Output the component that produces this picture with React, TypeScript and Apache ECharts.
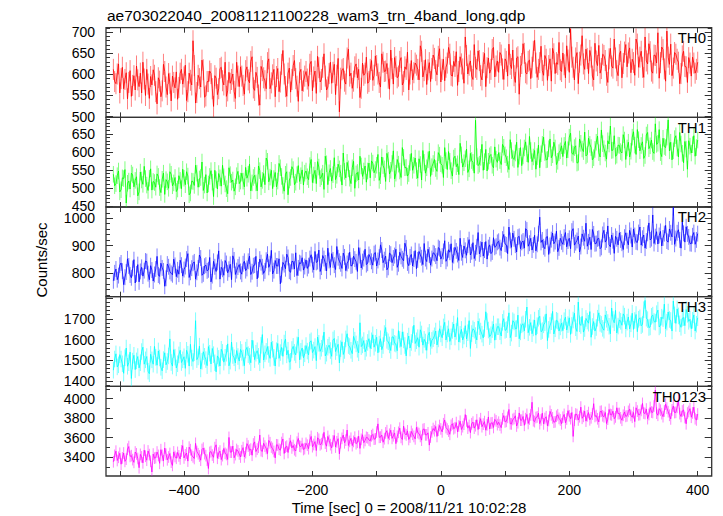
import React, { useEffect, useRef } from "react";
import * as echarts from "echarts";

// ---- data: 2-second bins; "A" = bins at -510, -506, ...; "B" = bins at -508, -504, ... ----
const tStart = -510;
const tStep = 4;

const th0A = [
  612, 578, 625, 590, 566, 604, 581, 548, 597, 620, 571, 556, 589, 612, 543, 575, 598, 530, 584, 561, 607, 552, 579, 596, 568,
  541, 603, 577, 622, 559, 586, 680, 532, 598, 570, 611, 549, 583, 602, 524, 591, 566, 617, 575, 548, 605, 588, 560, 629, 571,
  596, 553, 618, 580, 642, 562, 593, 527, 609, 585, 628, 566, 599, 547, 614, 582, 657, 571, 603, 558, 621, 590, 536, 612, 584,
  607, 572, 631, 594, 555, 616, 588, 649, 563, 602, 579, 624, 598, 511, 611, 584, 639, 596, 567, 618, 592, 545, 627, 603, 579,
  612, 586, 644, 601, 570, 629, 608, 591, 658, 577, 619, 596, 640, 583, 612, 563, 633, 604, 622, 587, 655, 609, 576, 628, 614,
  638, 599, 661, 612, 585, 627, 648, 596, 619, 574, 642, 613, 689, 601, 632, 588, 617, 656, 597, 628, 571, 639, 612, 664, 620,
  605, 646, 588, 631, 672, 614, 597, 639, 553, 626, 650, 601, 634, 617, 681, 593, 628, 609, 645, 586, 637, 662, 602, 624, 611,
  651, 592, 634, 708, 617, 639, 578, 646, 625, 660, 602, 641, 587, 632, 669, 614, 645, 598, 637, 620, 684, 609, 647, 592, 653,
  618, 663, 636, 598, 672, 641, 617, 689, 625, 654, 603, 645, 699, 628, 659, 584, 641, 672, 615, 648, 629, 602, 655, 618, 640,
  596, 627, 612,
];
const th0B = [
  583, 601, 556, 617, 588, 542, 609, 574, 563, 587, 603, 629, 550, 577, 595, 611, 559, 592, 547, 624, 570, 602, 537, 581, 606,
  569, 612, 594, 538, 603, 575, 621, 557, 590, 634, 546, 583, 608, 566, 597, 552, 614, 585, 629, 561, 579, 601, 543, 596, 618,
  574, 609, 587, 631, 568, 605, 551, 619, 592, 566, 637, 580, 612, 595, 559, 624, 601, 548, 615, 588, 633, 572, 604, 561, 596,
  589, 624, 561, 608, 643, 582, 617, 596, 570, 629, 605, 552, 638, 591, 614, 577, 660, 603, 584, 625, 612, 567, 598, 641, 583,
  633, 598, 621, 581, 649, 607, 626, 565, 614, 640, 592, 631, 575, 618, 653, 601, 587, 627, 612, 668, 594, 635, 611, 583, 646,
  609, 643, 582, 636, 617, 664, 598, 631, 654, 607, 625, 579, 645, 622, 596, 671, 612, 633, 587, 650, 616, 603, 659, 594, 632,
  652, 613, 637, 596, 624, 658, 581, 642, 619, 673, 604, 631, 590, 655, 627, 612, 667, 598, 636, 621, 584, 649, 628, 676, 607,
  623, 668, 605, 641, 587, 652, 629, 692, 612, 638, 657, 596, 674, 621, 603, 648, 633, 581, 662, 615, 639, 597, 655, 626, 671,
  651, 604, 628, 684, 617, 655, 593, 632, 673, 608, 646, 627, 591, 665, 613, 703, 624, 597, 652, 636, 578, 644, 619, 581, 627,
  641, 603, 629,
];

const th1A = [
  538, 512, 547, 495, 526, 458, 519, 541, 503, 531, 489, 522, 560, 508, 527, 494, 515, 539, 501, 524, 482, 517, 545, 506, 529,
  497, 521, 552, 509, 533, 486, 518, 563, 502, 529, 493, 537, 511, 548, 476, 523, 540, 505, 531, 498, 556, 516, 491, 534, 512,
  541, 503, 527, 566, 514, 535, 492, 548, 521, 509, 574, 530, 498, 543, 519, 556, 507, 538, 481, 529, 551, 516, 562, 534, 508,
  547, 523, 579, 536, 512, 558, 531, 496, 567, 542, 519, 584, 535, 553, 508, 546, 571, 527, 556, 499, 543, 588, 532, 561, 547,
  528, 569, 551, 593, 534, 562, 518, 577, 549, 603, 541, 566, 529, 585, 557, 540, 596, 563, 548, 581, 522, 571, 556, 602, 559,
  579, 546, 591, 563, 612, 551, 574, 533, 588, 567, 624, 558, 581, 543, 596, 571, 688, 562, 585, 549, 607, 574, 593, 556, 580,
  598, 565, 613, 584, 551, 604, 579, 627, 588, 562, 611, 595, 643, 573, 604, 587, 556, 621, 598, 579, 636, 592, 611, 574, 603,
  587, 629, 606, 652, 593, 617, 571, 624, 601, 589, 638, 612, 584, 627, 598, 661, 609, 580, 622, 604, 645, 591, 618, 597, 633,
  611, 586, 641, 619, 662, 603, 628, 590, 654, 617, 601, 678, 624, 598, 638, 612, 689, 627, 603, 645, 586, 622, 570, 608, 631,
  597, 645, 612,
];
const th1B = [
  506, 534, 489, 528, 551, 513, 497, 536, 521, 478, 544, 510, 526, 493, 553, 518, 502, 532, 487, 541, 523, 499, 538, 514, 490,
  534, 498, 527, 545, 481, 519, 507, 541, 525, 572, 508, 486, 532, 516, 549, 497, 528, 563, 511, 484, 537, 522, 503, 546, 519,
  519, 557, 538, 492, 529, 514, 561, 503, 540, 583, 517, 549, 526, 503, 568, 532, 491, 545, 522, 559, 509, 537, 518, 550, 541,
  531, 562, 515, 549, 573, 526, 541, 588, 509, 554, 537, 523, 566, 541, 597, 528, 553, 512, 574, 539, 522, 561, 547, 516, 569,
  575, 542, 563, 521, 586, 553, 596, 539, 568, 525, 579, 547, 612, 556, 533, 571, 549, 583, 527, 565, 604, 541, 578, 532, 568,
  554, 598, 567, 529, 576, 601, 548, 583, 559, 537, 592, 570, 608, 553, 576, 541, 587, 566, 621, 573, 547, 589, 563, 614, 571,
  576, 621, 592, 566, 634, 583, 597, 557, 612, 589, 628, 571, 604, 586, 552, 619, 595, 641, 578, 609, 584, 627, 565, 598, 617,
  618, 583, 641, 597, 612, 569, 636, 608, 655, 593, 621, 578, 607, 644, 586, 623, 597, 631, 672, 605, 588, 619, 601, 648, 579,
  627, 602, 656, 593, 634, 618, 582, 647, 609, 633, 596, 621, 662, 587, 615, 641, 603, 578, 637, 611, 654, 596, 629, 552, 616,
  620, 588, 633,
];

const th2A = [
  772, 815, 791, 837, 758, 804, 826, 783, 849, 797, 768, 821, 809, 842, 776, 811, 795, 861, 788, 819, 752, 833, 806, 794, 828,
  812, 847, 789, 824, 871, 803, 836, 778, 819, 855, 797, 829, 812, 768, 843, 806, 881, 821, 792, 835, 814, 776, 848, 809, 831,
  796, 843, 817, 862, 805, 829, 779, 851, 823, 808, 869, 834, 797, 846, 826, 761, 839, 816, 857, 803, 842, 874, 819, 835, 811,
  848, 827, 867, 812, 839, 884, 822, 853, 808, 846, 871, 829, 897, 843, 817, 859, 835, 876, 828, 851, 806, 864, 842, 887, 836,
  858, 829, 875, 846, 903, 838, 862, 821, 869, 855, 887, 834, 861, 845, 892, 827, 868, 851, 816, 879, 856, 908, 842, 866, 853,
  871, 845, 889, 862, 918, 853, 876, 839, 894, 868, 927, 857, 883, 902, 866, 911, 874, 948, 887, 862, 915, 893, 871, 929, 898,
  916, 882, 941, 903, 968, 894, 925, 877, 934, 912, 891, 957, 909, 884, 938, 905, 1004, 921, 889, 933, 901, 946, 915, 878, 927,
  905, 948, 917, 889, 962, 911, 935, 897, 929, 982, 914, 886, 943, 908, 927, 894, 956, 921, 903, 939, 872, 925, 947, 909, 931,
  918, 956, 895, 937, 912, 968, 927, 891, 945, 921, 1012, 933, 906, 952, 928, 974, 913, 947, 1039, 926, 958, 891, 945, 969, 932,
  907, 948, 921,
];
const th2B = [
  801, 776, 829, 807, 785, 852, 793, 817, 764, 831, 806, 789, 844, 798, 827, 771, 815, 793, 836, 808, 781, 823, 799, 851, 787,
  796, 829, 813, 851, 784, 818, 841, 803, 866, 792, 825, 808, 857, 791, 823, 839, 778, 814, 846, 801, 832, 863, 795, 822, 806,
  834, 809, 843, 795, 827, 861, 812, 838, 799, 847, 821, 883, 809, 826, 852, 794, 831, 869, 807, 843, 815, 791, 838, 856, 824,
  817, 853, 831, 879, 842, 806, 864, 837, 891, 821, 848, 813, 856, 834, 873, 809, 845, 826, 862, 841, 893, 819, 853, 831, 868,
  843, 871, 826, 858, 884, 849, 812, 873, 838, 864, 821, 876, 852, 909, 837, 859, 826, 882, 848, 867, 831, 853, 887, 829, 874,
  862, 893, 851, 879, 843, 885, 907, 864, 881, 846, 874, 899, 865, 922, 878, 853, 896, 870, 913, 884, 851, 903, 877, 894, 912,
  893, 924, 906, 871, 919, 946, 902, 931, 889, 917, 962, 898, 927, 903, 881, 944, 912, 896, 931, 868, 922, 907, 953, 892, 914,
  931, 896, 927, 953, 902, 919, 877, 943, 916, 898, 931, 959, 907, 925, 889, 941, 913, 972, 896, 918, 934, 903, 921, 886, 947,
  903, 937, 961, 914, 948, 902, 939, 917, 983, 926, 908, 951, 937, 899, 944, 917, 961, 932, 905, 947, 921, 986, 913, 943, 908,
  936, 905, 944,
];

const th3A = [
  1452, 1531, 1478, 1506, 1437, 1559, 1488, 1412, 1524, 1497, 1463, 1542, 1481, 1518, 1435, 1502, 1567, 1476, 1511, 1449, 1536, 1494, 1603, 1472, 1515,
  1483, 1548, 1502, 1461, 1529, 1577, 1494, 1691, 1516, 1458, 1541, 1503, 1566, 1482, 1527, 1444, 1509, 1553, 1491, 1534, 1473, 1588, 1512, 1547, 1496,
  1538, 1474, 1562, 1519, 1597, 1503, 1546, 1488, 1624, 1531, 1566, 1509, 1553, 1472, 1581, 1537, 1519, 1602, 1548, 1495, 1567, 1526, 1611, 1543, 1512,
  1571, 1526, 1594, 1549, 1498, 1582, 1558, 1636, 1534, 1573, 1519, 1605, 1561, 1487, 1589, 1547, 1628, 1566, 1532, 1597, 1553, 1681, 1574, 1541, 1586,
  1557, 1623, 1582, 1536, 1604, 1571, 1658, 1589, 1547, 1612, 1578, 1643, 1566, 1598, 1521, 1617, 1586, 1669, 1594, 1563, 1627, 1601, 1548, 1635, 1596,
  1618, 1574, 1652, 1609, 1683, 1627, 1591, 1644, 1612, 1706, 1625, 1598, 1667, 1633, 1557, 1652, 1619, 1689, 1641, 1608, 1734, 1646, 1623, 1675, 1638,
  1662, 1617, 1701, 1648, 1729, 1631, 1685, 1653, 1604, 1671, 1642, 1757, 1659, 1628, 1694, 1667, 1712, 1643, 1681, 1595, 1668, 1736, 1652, 1689, 1661,
  1643, 1708, 1672, 1625, 1694, 1657, 1781, 1668, 1636, 1702, 1679, 1611, 1687, 1658, 1729, 1673, 1645, 1698, 1664, 1752, 1681, 1632, 1695, 1669, 1713,
  1684, 1651, 1727, 1692, 1638, 1705, 1673, 1789, 1696, 1661, 1718, 1684, 1742, 1669, 1701, 1652, 1733, 1692, 1786, 1678, 1714, 1659, 1706, 1745, 1688,
  1652, 1719, 1674,
];
const th3B = [
  1506, 1468, 1527, 1483, 1512, 1471, 1539, 1496, 1455, 1518, 1488, 1563, 1502, 1447, 1529, 1481, 1514, 1545, 1466, 1503, 1478, 1521, 1489, 1551, 1463,
  1526, 1489, 1517, 1548, 1472, 1511, 1536, 1503, 1568, 1495, 1519, 1474, 1534, 1557, 1488, 1521, 1472, 1538, 1514, 1579, 1496, 1523, 1487, 1518, 1552,
  1511, 1549, 1527, 1488, 1556, 1534, 1519, 1572, 1501, 1543, 1528, 1587, 1514, 1546, 1509, 1562, 1583, 1526, 1491, 1552, 1538, 1574, 1502, 1559, 1531,
  1544, 1588, 1537, 1566, 1612, 1543, 1579, 1521, 1563, 1547, 1598, 1542, 1577, 1556, 1528, 1603, 1571, 1548, 1615, 1579, 1536, 1566, 1595, 1558, 1604,
  1594, 1563, 1611, 1578, 1551, 1629, 1596, 1574, 1613, 1582, 1546, 1601, 1637, 1571, 1592, 1559, 1624, 1581, 1609, 1647, 1573, 1588, 1619, 1567, 1604,
  1641, 1603, 1627, 1661, 1598, 1652, 1613, 1675, 1639, 1588, 1649, 1617, 1603, 1691, 1629, 1645, 1598, 1662, 1626, 1653, 1687, 1614, 1648, 1597, 1662,
  1638, 1683, 1644, 1672, 1609, 1691, 1652, 1718, 1637, 1676, 1698, 1633, 1682, 1656, 1621, 1703, 1638, 1671, 1724, 1649, 1686, 1627, 1693, 1641, 1679,
  1691, 1646, 1705, 1668, 1727, 1639, 1676, 1712, 1653, 1689, 1735, 1663, 1641, 1703, 1678, 1654, 1719, 1682, 1628, 1697, 1741, 1665, 1688, 1724, 1651,
  1709, 1676, 1649, 1721, 1698, 1667, 1744, 1703, 1658, 1712, 1687, 1725, 1661, 1708, 1771, 1684, 1697, 1641, 1719, 1748, 1676, 1703, 1667, 1722, 1698,
  1693, 1641, 1705,
];

const th0123A = [
  3352, 3461, 3398, 3327, 3442, 3379, 3508, 3415, 3346, 3433, 3291, 3402, 3471, 3368, 3425, 3247, 3389, 3452, 3336, 3418, 3493, 3372, 3437, 3315, 3406,
  3448, 3381, 3517, 3423, 3359, 3476, 3402, 3541, 3434, 3368, 3492, 3415, 3283, 3457, 3398, 3526, 3441, 3374, 3489, 3427, 3602, 3451, 3393, 3478, 3432,
  3465, 3402, 3538, 3471, 3419, 3556, 3482, 3627, 3459, 3513, 3436, 3547, 3488, 3392, 3524, 3471, 3586, 3502, 3447, 3568, 3519, 3463, 3591, 3507, 3478,
  3541, 3486, 3612, 3529, 3467, 3583, 3538, 3654, 3512, 3569, 3494, 3621, 3556, 3433, 3592, 3547, 3678, 3561, 3518, 3604, 3552, 3489, 3629, 3571, 3598,
  3566, 3632, 3587, 3741, 3605, 3552, 3648, 3591, 3676, 3619, 3538, 3654, 3602, 3718, 3627, 3581, 3663, 3612, 3705, 3641, 3574, 3689, 3628, 3523, 3658,
  3671, 3612, 3724, 3659, 3781, 3687, 3634, 3742, 3701, 3659, 3768, 3712, 3836, 3697, 3651, 3759, 3722, 3683, 3794, 3738, 3676, 3812, 3749, 3704, 3771,
  3758, 3702, 3826, 3767, 3889, 3741, 3796, 3719, 3853, 3779, 3726, 3838, 3791, 3963, 3764, 3812, 3743, 3851, 3796, 3721, 3869, 3803, 3762, 3834, 3781,
  3809, 3752, 3876, 3794, 3612, 3842, 3781, 3913, 3818, 3769, 3857, 3803, 3948, 3826, 3761, 3871, 3814, 3745, 3889, 3832, 3794, 3906, 3847, 3778, 3862,
  3823, 3891, 3809, 3764, 3872, 3836, 3951, 3847, 3795, 3909, 3858, 4088, 3829, 3881, 3815, 3943, 3866, 3792, 3924, 3859, 3987, 3817, 3884, 3742, 3868,
  3809, 3912, 3781,
];
const th0123B = [
  3418, 3365, 3439, 3392, 3356, 3481, 3407, 3374, 3452, 3386, 3428, 3341, 3409, 3463, 3357, 3431, 3394, 3417, 3476, 3362, 3429, 3401, 3348, 3453, 3388,
  3412, 3463, 3391, 3442, 3502, 3419, 3386, 3457, 3411, 3478, 3436, 3369, 3448, 3421, 3497, 3388, 3462, 3415, 3439, 3376, 3451, 3513, 3426, 3463, 3401,
  3497, 3446, 3513, 3482, 3534, 3457, 3501, 3466, 3542, 3489, 3571, 3503, 3458, 3526, 3481, 3549, 3437, 3512, 3538, 3494, 3476, 3553, 3512, 3539, 3487,
  3522, 3573, 3507, 3559, 3598, 3526, 3581, 3543, 3612, 3528, 3566, 3503, 3589, 3547, 3626, 3574, 3519, 3593, 3561, 3537, 3614, 3582, 3548, 3603, 3576,
  3619, 3584, 3657, 3603, 3627, 3589, 3671, 3634, 3592, 3648, 3613, 3697, 3581, 3642, 3669, 3606, 3634, 3587, 3652, 3612, 3683, 3628, 3649, 3606, 3693,
  3714, 3676, 3689, 3742, 3703, 3667, 3726, 3691, 3754, 3719, 3683, 3738, 3771, 3724, 3742, 3697, 3783, 3748, 3712, 3764, 3731, 3689, 3752, 3787, 3733,
  3729, 3793, 3761, 3808, 3742, 3786, 3824, 3753, 3779, 3817, 3794, 3745, 3832, 3773, 3806, 3851, 3782, 3741, 3814, 3776, 3833, 3758, 3819, 3797, 3742,
  3838, 3791, 3824, 3857, 3779, 3836, 3814, 3798, 3871, 3824, 3783, 3842, 3817, 3793, 3867, 3824, 3858, 3789, 3837, 3871, 3812, 3846, 3803, 3829, 3818,
  3869, 3828, 3857, 3906, 3834, 3879, 3852, 3893, 3837, 3862, 3924, 3851, 3897, 3846, 3873, 3902, 3829, 3884, 3857, 3911, 3846, 3873, 3806, 3852, 3897,
  3853, 3794, 3842,
];

// error bar half-lengths (counts/sec)
const errTH0 = 25;
const errTH1 = 23;
const errTH2 = 29;
const errTH3 = 40;
const errTH0123 = 60;

// tick values
const xTicks = [-500, -400, -300, -200, -100, 0, 100, 200, 300, 400];
const xLabels = [-400, -200, 0, 200, 400];

const yMajor0 = [500, 550, 600, 650, 700];
const yMinor0 = [510, 520, 530, 540, 560, 570, 580, 590, 610, 620, 630, 640, 660, 670, 680, 690, 710];
const yMajor1 = [450, 500, 550, 600, 650];
const yMinor1 = [460, 470, 480, 490, 510, 520, 530, 540, 560, 570, 580, 590, 610, 620, 630, 640, 660, 670, 680, 690];
const yMajor2 = [800, 900, 1000];
const yMinor2 = [720, 740, 760, 780, 820, 840, 860, 880, 920, 940, 960, 980, 1020, 1040];
const yMajor3 = [1400, 1500, 1600, 1700, 1800];
const yLabel3 = [1400, 1500, 1600, 1700];
const yMinor3 = [1380, 1420, 1440, 1460, 1480, 1520, 1540, 1560, 1580, 1620, 1640, 1660, 1680, 1720, 1740, 1760, 1780];
const yMajor4 = [3400, 3600, 3800, 4000];
const yMinor4 = [3300, 3500, 3700, 3900, 4100];

const titleText = "ae703022040_20081121100228_wam3_trn_4band_long.qdp";
const xName = "Time [sec] 0 = 2008/11/21 10:02:28";
const yName = "Counts/sec";

const FONT = '"Liberation Sans", Arial, Helvetica, sans-serif';

const panels = [
  { name: "TH0", a: th0A, b: th0B, err: errTH0, color: "#ff0000", yMin: 498, yMax: 711, major: yMajor0, labels: yMajor0, minor: yMinor0 },
  { name: "TH1", a: th1A, b: th1B, err: errTH1, color: "#00ff00", yMin: 447, yMax: 696, major: yMajor1, labels: yMajor1, minor: yMinor1 },
  { name: "TH2", a: th2A, b: th2B, err: errTH2, color: "#0000ff", yMin: 714, yMax: 1041, major: yMajor2, labels: yMajor2, minor: yMinor2 },
  { name: "TH3", a: th3A, b: th3B, err: errTH3, color: "#00ffff", yMin: 1374, yMax: 1807, major: yMajor3, labels: yLabel3, minor: yMinor3 },
  { name: "TH0123", a: th0123A, b: th0123B, err: errTH0123, color: "#ff00ff", yMin: 3206, yMax: 4126, major: yMajor4, labels: yMajor4, minor: yMinor4 },
];

const GRID_LEFT = 106;
const GRID_WIDTH = 605.7;
const GRID_TOP = 27.7;
const GRID_H = 89.66;
const X_MIN = -521.5;
const X_MAX = 421.8;
const AXIS_COLOR = "#333";

function fmtX(v: number) {
  return v < 0 ? "\u2212" + Math.abs(v) : String(v);
}

function buildData(a: number[], b: number[]) {
  const pts: number[][] = [];
  a.forEach((v, i) => pts.push([tStart + i * tStep, v]));
  b.forEach((v, i) => pts.push([tStart + tStep / 2 + i * tStep, v]));
  pts.sort((p, q) => p[0] - q[0]);
  return pts;
}

export default function App() {
  const ref = useRef<HTMLDivElement>(null);
  useEffect(() => {
    document.body.style.margin = "0";
    if (!ref.current) return;
    const chart = echarts.init(ref.current, undefined, { renderer: "svg" });

    const grids: any[] = [];
    const xAxes: any[] = [];
    const yAxes: any[] = [];
    const series: any[] = [];
    const graphics: any[] = [];

    panels.forEach((p, k) => {
      const top = GRID_TOP + k * GRID_H;
      grids.push({
        left: GRID_LEFT,
        width: GRID_WIDTH,
        top,
        height: GRID_H,
        show: true,
        borderColor: AXIS_COLOR,
        borderWidth: 1.3,
        backgroundColor: "transparent",
      });
      const xBase = {
        gridIndex: k,
        type: "value",
        min: X_MIN,
        max: X_MAX,
        axisLine: { show: false, onZero: false },
        splitLine: { show: false },
      };
      xAxes.push({
        ...xBase,
        position: "bottom",
        axisTick: { show: true, inside: true, length: 5, customValues: xTicks, lineStyle: { color: AXIS_COLOR, width: 1 } },
        axisLabel: {
          show: k === panels.length - 1,
          customValues: xLabels,
          formatter: fmtX,
          margin: 7,
          fontSize: 14,
          color: "#000",
          fontFamily: FONT,
        },
      });
      xAxes.push({
        ...xBase,
        position: "top",
        axisTick: { show: true, inside: true, length: 5, customValues: xTicks, lineStyle: { color: AXIS_COLOR, width: 1 } },
        axisLabel: { show: false },
      });
      const yBase = {
        gridIndex: k,
        type: "value",
        min: p.yMin,
        max: p.yMax,
        axisLine: { show: false, onZero: false },
        splitLine: { show: false },
      };
      (["left", "right"] as const).forEach((pos) => {
        yAxes.push({
          ...yBase,
          position: pos,
          axisTick: { show: true, inside: true, length: 7, customValues: p.major, lineStyle: { color: AXIS_COLOR, width: 1 } },
          axisLabel: {
            show: pos === "left",
            customValues: p.labels,
            formatter: (v: number) => String(v),
            margin: 11,
            fontSize: 14,
            color: "#000",
            fontFamily: FONT,
          },
        });
        yAxes.push({
          ...yBase,
          position: pos,
          axisTick: { show: true, inside: true, length: 4, customValues: p.minor, lineStyle: { color: AXIS_COLOR, width: 1 } },
          axisLabel: { show: false },
        });
      });

      const data = buildData(p.a, p.b);
      const err = p.err;
      const color = p.color;
      series.push({
        type: "custom",
        xAxisIndex: 2 * k,
        yAxisIndex: 4 * k,
        data,
        clip: true,
        silent: true,
        z: 2,
        encode: { x: 0, y: 1 },
        renderItem: (_params: any, api: any) => {
          const x = api.value(0);
          const y = api.value(1);
          const a = api.coord([x, y - err]);
          const b = api.coord([x, y + err]);
          return {
            type: "line",
            shape: { x1: a[0], y1: a[1], x2: b[0], y2: b[1] },
            style: { stroke: color, lineWidth: 1, opacity: 0.5 },
          };
        },
      });
      series.push({
        type: "line",
        xAxisIndex: 2 * k,
        yAxisIndex: 4 * k,
        data,
        symbol: "none",
        silent: true,
        z: 3,
        lineStyle: { color, width: 0.8 },
        itemStyle: { color },
      });

      graphics.push({
        type: "text",
        x: 706,
        y: top + 9.8,
        z: 10,
        style: { text: p.name, align: "right", verticalAlign: "middle", font: `15px ${FONT}`, fill: "#000" },
      });
    });

    graphics.push({
      type: "text",
      x: 107,
      y: 15.3,
      style: { text: titleText, align: "left", verticalAlign: "middle", font: `15.5px ${FONT}`, fill: "#000" },
    });
    graphics.push({
      type: "text",
      x: 409,
      y: 507,
      style: { text: xName, align: "center", verticalAlign: "middle", font: `15px ${FONT}`, fill: "#000" },
    });
    graphics.push({
      type: "text",
      x: 41,
      y: 260,
      rotation: Math.PI / 2,
      style: { text: yName, align: "center", verticalAlign: "middle", font: `15px ${FONT}`, fill: "#000" },
    });

    chart.setOption({
      animation: false,
      backgroundColor: "#ffffff",
      grid: grids,
      xAxis: xAxes,
      yAxis: yAxes,
      series,
      graphic: graphics,
    });
    return () => chart.dispose();
  }, []);
  return <div ref={ref} style={{ width: 723, height: 516 }} />;
}
